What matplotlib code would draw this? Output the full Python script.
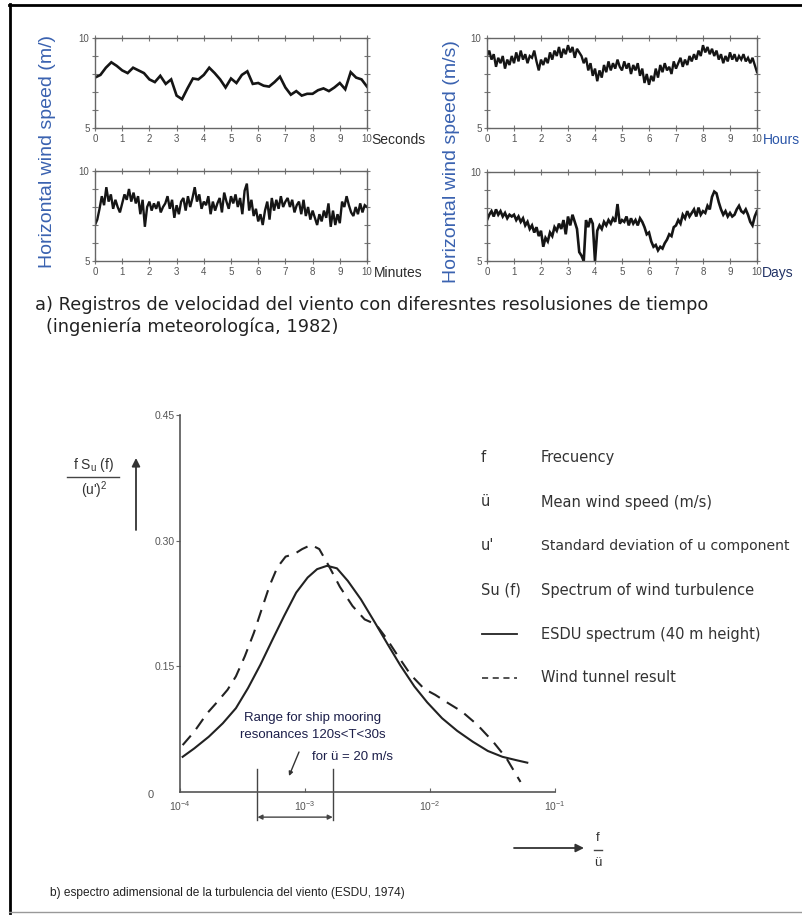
import numpy as np
import matplotlib
matplotlib.use("Agg")
import matplotlib.pyplot as plt
from matplotlib.lines import Line2D

plt.rcParams['font.family'] = ['Liberation Sans', 'DejaVu Sans']

# ---- data ----
seconds_speed = [7.8, 7.95, 8.35, 8.65, 8.45, 8.2, 8.05, 8.35, 8.2, 8.05, 7.7, 7.55, 7.9, 7.45,
                 7.7, 6.8, 6.6, 7.2, 7.75, 7.7, 7.95, 8.35, 8.05, 7.7, 7.25, 7.75, 7.5, 7.95,
                 8.15, 7.45, 7.5, 7.35, 7.3, 7.55, 7.85, 7.25, 6.85, 7.05, 6.8, 6.9, 6.9, 7.1,
                 7.2, 7.05, 7.25, 7.5, 7.15, 8.1, 7.8, 7.7, 7.3]

minutes_speed = [7.0,
                 7.3, 7.9, 8.6, 8.1, 9.1, 8.3, 8.7, 7.9, 8.4, 8.0, 7.7, 8.2,
                 8.7, 8.4, 9.0, 8.3, 8.8, 8.2, 8.6, 7.6, 8.4, 6.9, 8.0, 8.3,
                 7.8, 8.2, 7.9, 8.3, 7.7, 8.0, 8.2, 8.6, 7.9, 8.4, 7.4, 8.1,
                 7.6, 8.3, 8.5, 7.8, 8.6, 8.0, 8.5, 9.1, 8.3, 8.7, 7.9, 8.3,
                 8.1, 8.6, 7.6, 8.3, 7.8, 8.2, 8.5, 7.7, 8.8, 8.3, 7.9, 8.6,
                 8.2, 8.7, 8.0, 8.5, 7.6, 8.9, 9.3, 7.8, 8.4, 7.5, 7.9, 7.2,
                 7.6, 7.0, 7.8, 8.3, 7.3, 8.5, 7.8, 8.4, 7.9, 8.6, 8.0, 8.3,
                 8.5, 8.0, 8.4, 7.7, 8.1, 8.3, 7.6, 8.4, 7.5, 8.0, 7.3, 7.8,
                 7.4, 7.0, 7.6, 7.2, 7.8, 7.4, 8.2, 6.9, 7.8, 7.0, 7.6, 7.1,
                 8.3, 8.0, 8.6, 8.1, 7.7, 7.5, 8.0, 7.6, 8.2, 7.7, 8.1, 8.0]

hours_speed = [9.0, 9.3, 8.8, 9.1, 8.4, 8.9, 8.6, 9.0, 8.3, 8.8, 8.5, 9.0, 8.6,
               9.2, 8.7, 9.3, 8.8, 9.1, 8.6, 9.0, 8.9, 9.3, 8.7, 8.2, 8.8,
               8.5, 8.9, 8.6, 9.2, 8.8, 9.3, 9.0, 9.5, 8.9, 9.4, 9.1, 9.6,
               9.2, 9.5, 8.9, 9.4, 9.2, 9.0, 8.6, 8.9, 8.2, 8.6, 7.9, 8.3,
               7.6, 8.2, 7.8, 8.5, 8.1, 8.7, 8.2, 8.6, 8.3, 8.8, 8.4, 8.2,
               8.7, 8.3, 8.6, 8.0, 8.5, 8.2, 8.6, 7.9, 8.3, 7.5, 8.0, 7.4,
               7.9, 7.6, 8.3, 7.8, 8.5, 8.1, 8.6, 8.2, 8.4, 8.0, 8.7, 8.3,
               8.6, 8.9, 8.4, 8.8, 8.5, 9.0, 8.7, 9.1, 8.8, 9.3, 9.0, 9.6,
               9.2, 9.5, 9.1, 9.4, 9.0, 9.3, 8.8, 9.1, 8.6, 9.0, 8.7, 9.2,
               8.8, 9.1, 8.7, 9.0, 8.8, 9.1, 8.7, 8.9, 8.6, 8.9, 8.5, 8.1]

days_speed = [7.3, 7.6, 7.8, 7.5, 7.9, 7.6, 7.8, 7.5, 7.7, 7.4, 7.6, 7.5, 7.6,
              7.3, 7.5, 7.2, 7.4, 7.0, 7.2, 6.8, 7.0, 6.6, 6.9, 6.4, 6.7,
              5.8, 6.3, 6.1, 6.6, 6.4, 6.9, 6.7, 7.1, 6.8, 7.3, 6.5, 7.5,
              7.0, 7.6, 7.2, 6.8, 5.5, 5.3, 5.0, 7.3, 6.9, 7.4, 7.1, 5.0,
              6.7, 7.0, 6.8, 7.2, 7.0, 7.3, 7.1, 7.4, 7.2, 8.2, 7.1, 7.3,
              7.2, 7.5, 7.0, 7.4, 7.1, 7.3, 7.0, 7.4, 7.2, 6.9, 6.5, 6.6,
              6.1, 5.8, 5.9, 5.6, 5.8, 5.7, 6.0, 6.2, 6.5, 6.4, 6.9, 7.0,
              7.3, 7.1, 7.6, 7.4, 7.8, 7.5, 7.7, 7.9, 7.5, 8.0, 7.6, 7.8,
              7.7, 8.1, 7.9, 8.6, 8.9, 8.8, 8.3, 7.9, 7.6, 7.8, 7.5, 7.7,
              7.5, 7.6, 7.9, 8.1, 7.8, 7.7, 7.9, 7.6, 7.2, 7.0, 7.5, 7.8]

esdu_f = [1.05e-4, 1.3e-4, 1.7e-4, 2.2e-4, 2.8e-4, 3.5e-4, 4.4e-4, 5.5e-4, 6.8e-4, 8.5e-4,
          1.05e-3, 1.25e-3, 1.5e-3, 1.8e-3, 2.2e-3, 2.8e-3, 3.6e-3, 4.6e-3, 5.8e-3, 7.5e-3,
          9.5e-3, 1.25e-2, 1.65e-2, 2.2e-2, 2.9e-2, 3.8e-2, 4.9e-2, 6.0e-2]
esdu_s = [0.042, 0.052, 0.066, 0.082, 0.100, 0.124, 0.152, 0.182, 0.210, 0.238,
          0.256, 0.266, 0.270, 0.267, 0.252, 0.230, 0.203, 0.176, 0.151, 0.126,
          0.107, 0.088, 0.073, 0.060, 0.049, 0.042, 0.038, 0.035]

tunnel_f = [1.05e-4, 1.3e-4, 1.65e-4, 2.0e-4, 2.4e-4, 2.8e-4, 3.3e-4, 3.9e-4, 4.5e-4, 5.2e-4,
            6.0e-4, 7.0e-4, 8.2e-4, 9.5e-4, 1.12e-3, 1.3e-3, 1.55e-3, 1.9e-3, 2.4e-3, 3.0e-3,
            3.7e-3, 4.5e-3, 5.5e-3, 7.0e-3, 9.0e-3, 1.1e-2, 1.4e-2, 1.8e-2, 2.4e-2, 3.2e-2,
            4.1e-2, 4.7e-2, 5.3e-2]
tunnel_s = [0.056, 0.072, 0.094, 0.108, 0.122, 0.138, 0.162, 0.190, 0.218, 0.246,
            0.268, 0.281, 0.284, 0.290, 0.295, 0.290, 0.270, 0.245, 0.222, 0.206,
            0.200, 0.183, 0.163, 0.140, 0.123, 0.116, 0.106, 0.096, 0.080, 0.060,
            0.040, 0.025, 0.012]

# 120 s < T < 30 s at mean wind 20 m/s  ->  f/u = 1/(T*u)
mooring_range = [1 / (120 * 20), 1 / (30 * 20)]

spec_yticks = [0.15, 0.30, 0.45]
spec_yticklabels = ['0.15', '0.30', '0.45']
spec_xticks = [1e-4, 1e-3, 1e-2, 1e-1]
spec_xticklabels = [r'10$^{\mathregular{-4}}$', r'10$^{\mathregular{-3}}$',
                    r'10$^{\mathregular{-2}}$', r'10$^{\mathregular{-1}}$']

legend_keys = ['f', 'ü', "u'", 'Su (f)']
legend_texts = ['Frecuency', 'Mean wind speed (m/s)', 'Standard deviation of u component',
                'Spectrum of wind turbulence', 'ESDU spectrum (40 m height)', 'Wind tunnel result']

W, H = 802, 915
fig = plt.figure(figsize=(W / 100, H / 100), dpi=100)
fig.patch.set_facecolor('white')
wide = ['DejaVu Sans']


def rect(x0, y0, x1, y1):
    return [x0 / W, 1 - y1 / H, (x1 - x0) / W, (y1 - y0) / H]


def fx(x):
    return x / W


def fy(y):
    return 1 - y / H


def wind_panel(r, speed, lw):
    ax = fig.add_axes(r)
    t = np.linspace(0, 10, len(speed))
    ax.plot(t, speed, color='#151515', lw=lw, solid_joinstyle='miter')
    ax.set_xlim(0, 10)
    ax.set_ylim(5, 10)
    ax.set_xticks(range(11))
    ax.set_yticks(range(5, 11))
    ax.set_yticklabels(['5', '', '', '', '', '10'])
    ax.tick_params(direction='inout', length=4, width=0.8, color='#777',
                   labelcolor='#555', labelsize=7, top=True, right=True, pad=2)
    for s in ax.spines.values():
        s.set_color('#666')
        s.set_linewidth(1.0)
    return ax


wind_panel(rect(95, 38, 367, 128), seconds_speed, 1.9)
wind_panel(rect(95, 171, 367, 261), minutes_speed, 1.7)
wind_panel(rect(487, 38, 757, 128), hours_speed, 1.7)
wind_panel(rect(487, 172, 757, 261), days_speed, 1.9)

blue = '#3a62b0'
fig.text(fx(48), fy(152), 'Horizontal wind speed (m/)', rotation=90, color=blue,
         fontsize=14, ha='center', va='center')
fig.text(fx(452), fy(162), 'Horizontal wind speed (m/s)', rotation=90, color=blue,
         fontsize=14, ha='center', va='center')
fig.text(fx(371), fy(140), 'Seconds', color='#2b2b2b', fontsize=10, ha='left', va='center')
fig.text(fx(374), fy(273), 'Minutes', color='#2b2b2b', fontsize=10, ha='left', va='center')
fig.text(fx(763), fy(140), 'Hours', color='#2a55a8', fontsize=10, ha='left', va='center')
fig.text(fx(762), fy(273), 'Days', color='#223366', fontsize=10, ha='left', va='center')

fig.text(fx(35), fy(305), 'a) Registros de velocidad del viento con diferesntes resolusiones de tiempo',
         color='#222', fontsize=12.8, ha='left', va='center', family=wide)
fig.text(fx(46), fy(327), '(ingeniería meteorologíca, 1982)',
         color='#222', fontsize=12.8, ha='left', va='center', family=wide)

# ---- spectrum ----
ax = fig.add_axes(rect(180, 415, 555, 792))
ax.plot(esdu_f, esdu_s, color='#222', lw=1.5)
ax.plot(tunnel_f, tunnel_s, color='#222', lw=1.5, dashes=(6, 4))
ax.set_xscale('log')
ax.set_xlim(1e-4, 1e-1)
ax.set_ylim(0, 0.45)
ax.set_xticks(spec_xticks)
ax.set_xticklabels(spec_xticklabels)
ax.minorticks_off()
ax.set_yticks(spec_yticks)
ax.set_yticklabels(spec_yticklabels)
ax.tick_params(axis='y', direction='out', length=3, width=0.8, color='#666',
               labelcolor='#555', labelsize=7.5, pad=1)
ax.tick_params(axis='x', direction='in', length=3, width=0.8, color='#666',
               labelcolor='#555', labelsize=7.5, pad=5)
for side in ('top', 'right'):
    ax.spines[side].set_visible(False)
for side in ('left', 'bottom'):
    ax.spines[side].set_color('#555')
    ax.spines[side].set_linewidth(1.2)
ax.patch.set_alpha(0)
fig.text(fx(151), fy(795), '0', color='#555', fontsize=8, ha='center', va='center')

# mooring resonance range
for f in mooring_range:
    ax.plot([f, f], [0.028, -0.033], color='#444', lw=1.0, clip_on=False)
ax.annotate('', xy=(mooring_range[1], -0.030), xytext=(mooring_range[0], -0.030),
            xycoords='data', annotation_clip=False,
            arrowprops=dict(arrowstyle='<|-|>', color='#444', lw=1.0,
                            mutation_scale=7, shrinkA=0, shrinkB=0))
navy = '#1c1f4a'
fig.text(fx(313), fy(718), 'Range for ship mooring', color=navy, fontsize=9.5,
         ha='center', va='center')
fig.text(fx(313), fy(735), 'resonances 120s<T<30s', color=navy, fontsize=9.5,
         ha='center', va='center')
fig.text(fx(312), fy(757), 'for ü = 20 m/s', color=navy, fontsize=9.5,
         ha='left', va='center')
ax.annotate('', xy=(fx(289), fy(776)), xytext=(fx(299), fy(752)),
            xycoords='figure fraction', textcoords='figure fraction',
            arrowprops=dict(arrowstyle='-|>', color='#333', lw=1.0,
                            mutation_scale=6, shrinkA=0, shrinkB=0))

# y label fraction and arrow
fig.text(fx(94), fy(465), r'f S$_\mathregular{u}$ (f)', color='#333', fontsize=10,
         ha='center', va='center')
fig.add_artist(Line2D([fx(67), fx(119)], [fy(477), fy(477)], color='#444', lw=1.0))
fig.text(fx(94), fy(490), "(u')$^\\mathregular{2}$", color='#333', fontsize=10,
         ha='center', va='center')
ax.annotate('', xy=(fx(136), fy(458)), xytext=(fx(136), fy(530)),
            xycoords='figure fraction', textcoords='figure fraction',
            arrowprops=dict(arrowstyle='-|>', color='#333', lw=1.3,
                            mutation_scale=12, shrinkA=0, shrinkB=0))

# x label fraction and arrow
ax.annotate('', xy=(fx(584), fy(848)), xytext=(fx(514), fy(848)),
            xycoords='figure fraction', textcoords='figure fraction',
            arrowprops=dict(arrowstyle='-|>', color='#333', lw=1.3,
                            mutation_scale=12, shrinkA=0, shrinkB=0))
fig.text(fx(598), fy(838), 'f', color='#333', fontsize=9.5, ha='center', va='center')
fig.add_artist(Line2D([fx(594), fx(602)], [fy(850), fy(850)], color='#444', lw=1.0))
fig.text(fx(598), fy(863), 'ü', color='#333', fontsize=9.5, ha='center', va='center')

# legend block
rows_y = [458, 502, 546, 590, 634, 678]
for key, y in zip(legend_keys, rows_y[:4]):
    fig.text(fx(481), fy(y), key, color='#333', fontsize=10.5, ha='left', va='center',
             family=wide)
fig.add_artist(Line2D([fx(482), fx(517)], [fy(rows_y[4]), fy(rows_y[4])], color='#222', lw=1.3))
fig.add_artist(Line2D([fx(482), fx(517)], [fy(rows_y[5]), fy(rows_y[5])], color='#222', lw=1.1,
                      dashes=(4, 3)))
for txt, y in zip(legend_texts, rows_y):
    fs = 10.1 if len(txt) > 30 else 10.5
    fig.text(fx(541), fy(y), txt, color='#333', fontsize=fs, ha='left', va='center',
             family=wide)

fig.text(fx(50), fy(893), 'b) espectro adimensional de la turbulencia del viento (ESDU, 1974)',
         color='#222', fontsize=8.6, ha='left', va='center')

# frame
fig.add_artist(Line2D([fx(10), fx(10)], [fy(4), fy(913)], color='black', lw=2))
fig.add_artist(Line2D([fx(9), fx(802)], [fy(5), fy(5)], color='black', lw=2))
fig.add_artist(Line2D([fx(9), fx(802)], [fy(912), fy(912)], color='#999', lw=1))

fig.savefig('out.png', dpi=100, facecolor='white')
